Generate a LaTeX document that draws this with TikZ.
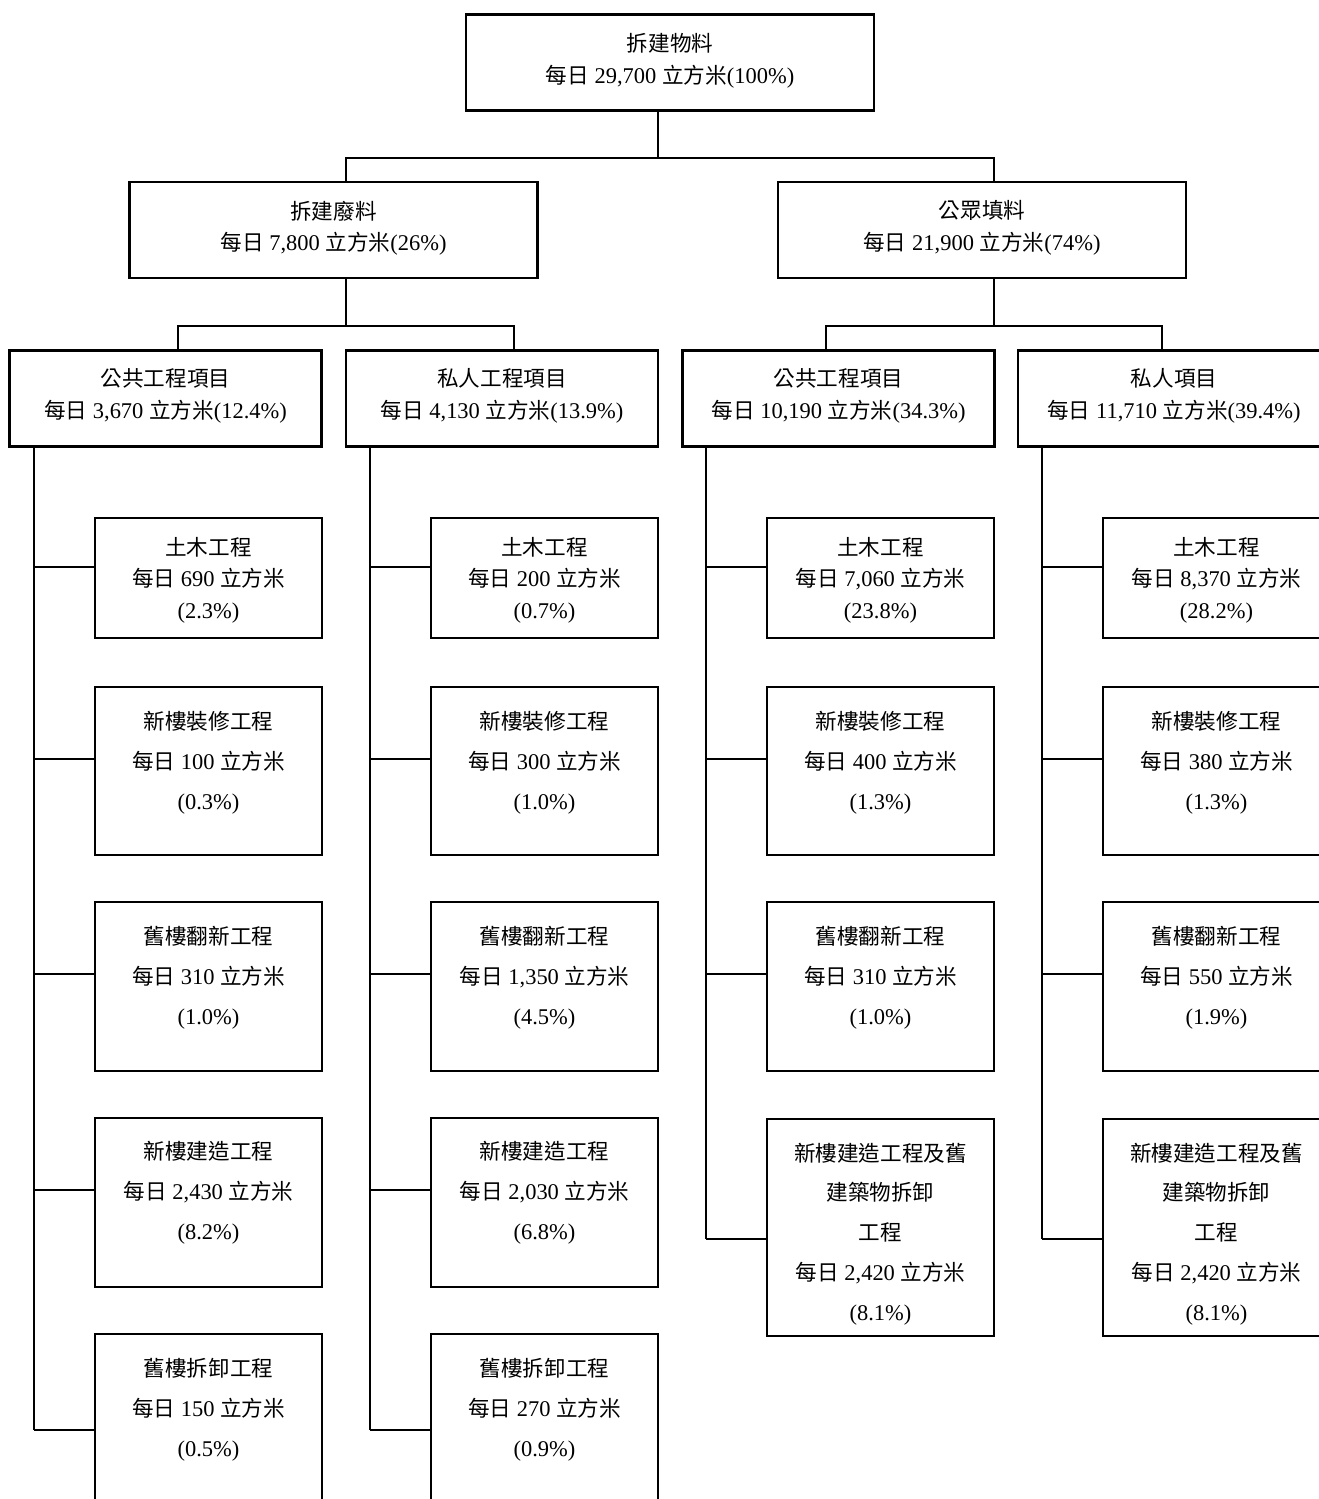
\documentclass[tikz,border=0pt]{standalone}
\usepackage{fontspec}
\setmainfont{Liberation Serif}[Scale=1.04]
\newfontfamily\zhfont{Noto Sans CJK TC}
\newcommand{\zh}[1]{{\zhfont #1}}
\newcommand{\perday}[1]{\zh{每日} #1 \zh{立方米}}
\usetikzlibrary{calc}

\tikzset{
  box/.style={draw=black, line width=1.3pt, inner sep=0pt},
  bigbox/.style={box, minimum width=8.16cm, minimum height=1.92cm},
  midbox/.style={box, minimum width=6.24cm, minimum height=1.92cm},
  leafbox/.style={box, minimum width=4.54cm, minimum height=#1},
  tight/.style={align=center, inner sep=0pt, font=\fontsize{12.3}{17.9}\selectfont},
  loose/.style={align=center, inner sep=0pt, font=\fontsize{12.3}{22.7}\selectfont},
  link/.style={line width=1.3pt}
}

\begin{document}
\begin{tikzpicture}[x=0.02cm, y=-0.02cm]
   \useasboundingbox (0,0) rectangle (1319,1499);
   \clip (0,0) rectangle (1319,1499);

   % top two levels
   \node[bigbox] (l1) at (670,62.5) {};
   \node[tight] (l1t) at (670,61) {\zh{拆建物料}\\\perday{29,700}(100\%)};
   \node[bigbox] (l2a) at (333.5,230) {};
   \node[tight] (l2at) at (333.5,228) {\zh{拆建廢料}\\\perday{7,800}(26\%)};
   \node[bigbox] (l2b) at (982,230) {};
   \node[tight] (l2bt) at (982,228) {\zh{公眾填料}\\\perday{21,900}(74\%)};

   % third level
   \node[midbox] (l3a) at (165.5,398.5) {};
   \node[tight] (l3at) at (165.5,396) {\zh{公共工程項目}\\\perday{3,670}(12.4\%)};
   \node[midbox] (l3b) at (502,398.5) {};
   \node[tight] (l3bt) at (502,396) {\zh{私人工程項目}\\\perday{4,130}(13.9\%)};
   \node[midbox] (l3c) at (838.5,398.5) {};
   \node[tight] (l3ct) at (838.5,396) {\zh{公共工程項目}\\\perday{10,190}(34.3\%)};
   \node[midbox] (l3d) at (1174,398.5) {};
   \node[tight] (l3dt) at (1174,396) {\zh{私人項目}\\\perday{11,710}(39.4\%)};

   % joints
   \coordinate (j0) at (658,158);
   \coordinate (j1) at (346,158);
   \coordinate (j2) at (994,158);
   \coordinate (j3) at (346,326);
   \coordinate (j4) at (178,326);
   \coordinate (j5) at (514,326);
   \coordinate (j6) at (994,326);
   \coordinate (j7) at (826,326);
   \coordinate (j8) at (1162,326);

   \draw[link] (l1.south -| j0) -- (j0);
   \draw[link] (l2a.north -| j1) -- (j1) -- (j2) -- (l2b.north -| j2);
   \draw[link] (l2a.south -| j3) -- (j3);
   \draw[link] (l3a.north -| j4) -- (j4) -- (j5) -- (l3b.north -| j5);
   \draw[link] (l2b.south -| j6) -- (j6);
   \draw[link] (l3c.north -| j7) -- (j7) -- (j8) -- (l3d.north -| j8);

   % column a
   \node[leafbox=2.4cm] (a1) at (208.5,578) {};
   \node[tight] (a1t) at (208.5,580) {\zh{土木工程}\\\perday{690}\\(2.3\%)};
   \node[leafbox=3.36cm] (a2) at (208.5,771) {};
   \node[loose] (a2t) at (208.5,763) {\zh{新樓裝修工程}\\\perday{100}\\(0.3\%)};
   \node[leafbox=3.38cm] (a3) at (208.5,986.5) {};
   \node[loose] (a3t) at (208.5,978) {\zh{舊樓翻新工程}\\\perday{310}\\(1.0\%)};
   \node[leafbox=3.38cm] (a4) at (208.5,1202.5) {};
   \node[loose] (a4t) at (208.5,1193) {\zh{新樓建造工程}\\\perday{2,430}\\(8.2\%)};
   \node[leafbox=3.38cm] (a5) at (208.5,1418.5) {};
   \node[loose] (a5t) at (208.5,1410) {\zh{舊樓拆卸工程}\\\perday{150}\\(0.5\%)};

   % column b
   \node[leafbox=2.4cm] (b1) at (544.5,578) {};
   \node[tight] (b1t) at (544.5,580) {\zh{土木工程}\\\perday{200}\\(0.7\%)};
   \node[leafbox=3.36cm] (b2) at (544.5,771) {};
   \node[loose] (b2t) at (544.5,763) {\zh{新樓裝修工程}\\\perday{300}\\(1.0\%)};
   \node[leafbox=3.38cm] (b3) at (544.5,986.5) {};
   \node[loose] (b3t) at (544.5,978) {\zh{舊樓翻新工程}\\\perday{1,350}\\(4.5\%)};
   \node[leafbox=3.38cm] (b4) at (544.5,1202.5) {};
   \node[loose] (b4t) at (544.5,1193) {\zh{新樓建造工程}\\\perday{2,030}\\(6.8\%)};
   \node[leafbox=3.38cm] (b5) at (544.5,1418.5) {};
   \node[loose] (b5t) at (544.5,1410) {\zh{舊樓拆卸工程}\\\perday{270}\\(0.9\%)};

   % column c
   \node[leafbox=2.4cm] (c1) at (880.5,578) {};
   \node[tight] (c1t) at (880.5,580) {\zh{土木工程}\\\perday{7,060}\\(23.8\%)};
   \node[leafbox=3.36cm] (c2) at (880.5,771) {};
   \node[loose] (c2t) at (880.5,763) {\zh{新樓裝修工程}\\\perday{400}\\(1.3\%)};
   \node[leafbox=3.38cm] (c3) at (880.5,986.5) {};
   \node[loose] (c3t) at (880.5,978) {\zh{舊樓翻新工程}\\\perday{310}\\(1.0\%)};
   \node[leafbox=4.34cm] (c4) at (880.5,1227.5) {};
   \node[loose] (c4t) at (880.5,1234) {\zh{新樓建造工程及舊}\\\zh{建築物拆卸}\\\zh{工程}\\\perday{2,420}\\(8.1\%)};

   % column d
   \node[leafbox=2.4cm] (d1) at (1216.5,578) {};
   \node[tight] (d1t) at (1216.5,580) {\zh{土木工程}\\\perday{8,370}\\(28.2\%)};
   \node[leafbox=3.36cm] (d2) at (1216.5,771) {};
   \node[loose] (d2t) at (1216.5,763) {\zh{新樓裝修工程}\\\perday{380}\\(1.3\%)};
   \node[leafbox=3.38cm] (d3) at (1216.5,986.5) {};
   \node[loose] (d3t) at (1216.5,978) {\zh{舊樓翻新工程}\\\perday{550}\\(1.9\%)};
   \node[leafbox=4.34cm] (d4) at (1216.5,1227.5) {};
   \node[loose] (d4t) at (1216.5,1234) {\zh{新樓建造工程及舊}\\\zh{建築物拆卸}\\\zh{工程}\\\perday{2,420}\\(8.1\%)};

   % spines
   \coordinate (ka1) at (34,567);   \coordinate (ka2) at (34,759);
   \coordinate (ka3) at (34,974);   \coordinate (ka4) at (34,1190);
   \coordinate (ka5) at (34,1430);
   \coordinate (kb1) at (370,567);  \coordinate (kb2) at (370,759);
   \coordinate (kb3) at (370,974);  \coordinate (kb4) at (370,1190);
   \coordinate (kb5) at (370,1430);
   \coordinate (kc1) at (706,567);  \coordinate (kc2) at (706,759);
   \coordinate (kc3) at (706,974);  \coordinate (kc4) at (706,1239);
   \coordinate (kd1) at (1042,567); \coordinate (kd2) at (1042,759);
   \coordinate (kd3) at (1042,974); \coordinate (kd4) at (1042,1239);

   \draw[link] (l3a.south -| ka1) -- (ka5);
   \draw[link] (l3b.south -| kb1) -- (kb5);
   \draw[link] (l3c.south -| kc1) -- (kc4);
   \draw[link] (l3d.south -| kd1) -- (kd4);
   \foreach \i in {1,...,5} {
     \draw[link] (ka\i) -- (ka\i -| a\i.west);
     \draw[link] (kb\i) -- (kb\i -| b\i.west);
   }
   \foreach \i in {1,...,4} {
     \draw[link] (kc\i) -- (kc\i -| c\i.west);
     \draw[link] (kd\i) -- (kd\i -| d\i.west);
   }
\end{tikzpicture}
\end{document}
